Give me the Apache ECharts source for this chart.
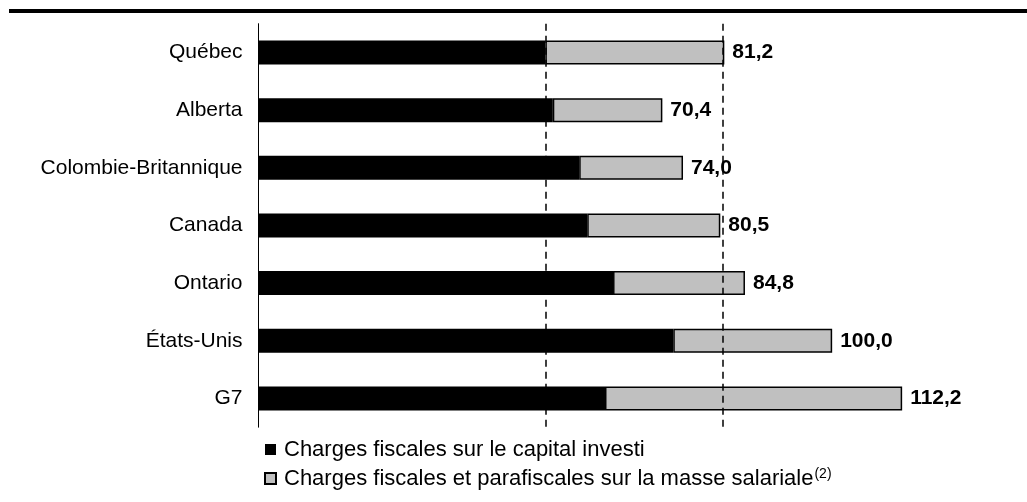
<!DOCTYPE html>
<html>
<head>
<meta charset="utf-8">
<script src="https://cdn.jsdelivr.net/npm/echarts@6/dist/echarts.min.js"></script>
<style>html,body{margin:0;padding:0;background:#fff}#c{width:1027px;height:502px}</style>
</head>
<body>
<div id="c"></div>
<script>
const categories = ['Québec', 'Alberta', 'Colombie-Britannique', 'Canada', 'Ontario', 'États-Unis', 'G7'];
const capital = [50.0, 51.3, 55.9, 57.3, 61.8, 72.3, 60.4];
const salary = [31.2, 19.1, 18.1, 23.2, 23.0, 27.7, 51.8];
const totals = [81.2, 70.4, 74.0, 80.5, 84.8, 100.0, 112.2];
const refLines = [50.0, 81.0];
const seriesNames = ['Charges fiscales sur le capital investi', 'Charges fiscales et parafiscales sur la masse salariale'];

const FONT = 'Liberation Sans, Arial, sans-serif';
const chart = echarts.init(document.getElementById('c'), null, {renderer: 'canvas'});
chart.setOption({
  animation: false,
  backgroundColor: '#fff',
  textStyle: {fontFamily: FONT},
  graphic: [{type: 'rect', shape: {x: 9, y: 9, width: 1018, height: 4}, style: {fill: '#000'}}],
  grid: {left: 258.5, top: 23.7, width: 688.4, height: 403.5},
  xAxis: {type: 'value', min: 0, max: 120, show: false},
  yAxis: {
    type: 'category', data: categories, inverse: true,
    axisLine: {show: true, lineStyle: {color: '#000', width: 1}},
    axisTick: {show: false},
    axisLabel: {color: '#000', fontSize: 21, fontFamily: FONT, margin: 16}
  },
  legend: {
    orient: 'vertical', left: 264, top: 438, padding: 0,
    itemWidth: 11, itemHeight: 11, itemGap: 6,
    icon: 'rect',
    textStyle: {
      fontSize: 22, color: '#000', fontFamily: FONT, lineHeight: 23, padding: [0, 0, 0, 3],
      rich: {sup: {fontSize: 14, fontFamily: FONT, color: '#000', verticalAlign: 'top', padding: [0, 0, 10, 1]}}
    },
    formatter: function (n) { return n === seriesNames[1] ? n + '{sup|(2)}' : n; },
    data: seriesNames
  },
  series: [
    {
      name: seriesNames[0], type: 'bar', stack: 't', data: capital, barWidth: 24,
      itemStyle: {color: '#000'}
    },
    {
      name: seriesNames[1], type: 'bar', stack: 't', data: salary, barWidth: 24,
      itemStyle: {color: '#c0c0c0', borderColor: '#000', borderWidth: 1.5},
      label: {
        show: true, position: 'right', distance: 8,
        fontSize: 21, fontWeight: 'bold', color: '#000', fontFamily: FONT,
        formatter: function (p) { return totals[p.dataIndex].toFixed(1).replace('.', ','); }
      },
      markLine: {
        symbol: 'none', silent: true, label: {show: false},
        lineStyle: {color: '#000', type: [7, 5], width: 1.5},
        data: refLines.map(v => ({xAxis: v}))
      }
    }
  ]
});
</script>
</body>
</html>
